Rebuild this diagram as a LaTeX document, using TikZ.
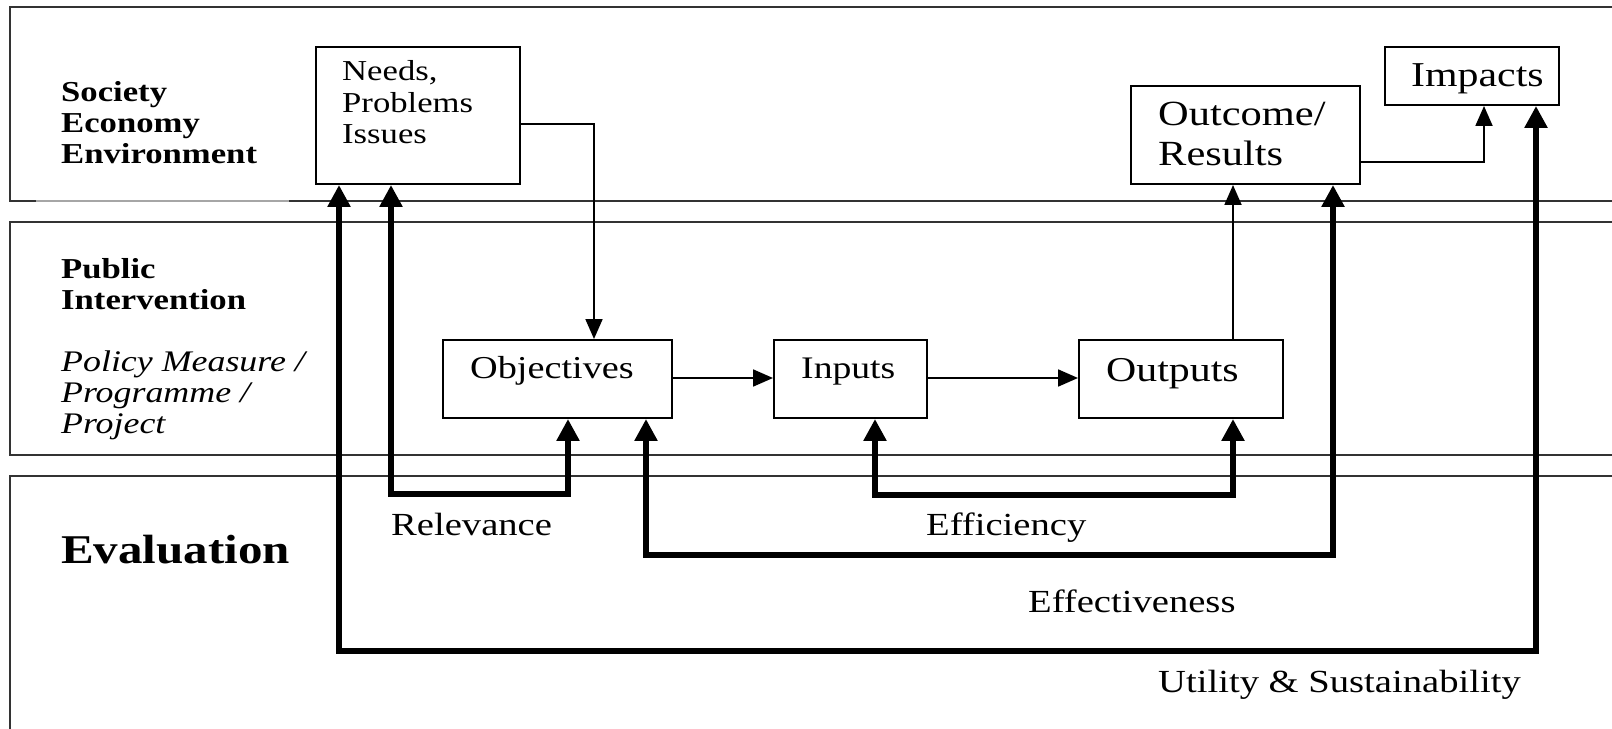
\documentclass[tikz,border=0pt]{standalone}
\usepackage{fontspec}
\setmainfont{Liberation Serif}[FakeStretch=1.2]
\usetikzlibrary{arrows.meta}
\begin{document}
\begin{tikzpicture}[x=1bp,y=-1bp,
  panel/.style={draw=black!80, line width=1.5pt},
  box/.style={draw, line width=2pt, inner sep=0pt, anchor=north west},
  flow/.style={line width=2pt, -{Triangle[length=20pt,width=17pt]}},
  fatarrow/.style={line width=6pt, line join=miter, {Triangle[length=22pt,width=22pt]}-{Triangle[length=22pt,width=22pt]}},
  txt/.style={anchor=base west, inner sep=0pt},
  lbl/.style={txt, font=\fontsize{32.3}{39}\selectfont},
  head/.style={txt, font=\fontsize{29}{31}\selectfont\bfseries},
  sub/.style={txt, font=\fontsize{30}{31}\selectfont\itshape},
  intext/.style={txt, font=\fontsize{29}{31}\selectfont}
]
\useasboundingbox (0,0) rectangle (1612,729);
\fill[white] (0,0) rectangle (1612,729);
% panels
\draw[panel] (1640,7) -- (10,7) -- (10,201) -- (1640,201);
\draw[black!35, line width=1.5pt] (36,201) -- (289,201);
\draw[panel] (1640,222) -- (10,222) -- (10,455) -- (1640,455);
\draw[panel] (1640,476) -- (10,476) -- (10,740);

% row headings
\node[head] (h1) at (61,102) {Society};
\node[head] (h2) at (61,133) {Economy};
\node[head] (h3) at (61,163) {Environment};
\node[head] (p1) at (61,278) {Public};
\node[head] (p2) at (61,309) {Intervention};
\node[sub] (s1) at (61,371) {Policy Measure /};
\node[sub] (s2) at (61,402) {Programme /};
\node[sub] (s3) at (61,433) {Project};
\node[txt, font=\fontsize{41}{45}\selectfont\bfseries] (ev) at (61,563) {Evaluation};

% boxes
\node[box, minimum width=204bp, minimum height=137bp] (needs) at (315,46) {};
\node[box, minimum width=229bp, minimum height=98bp] (outcome) at (1130,85) {};
\node[box, minimum width=174bp, minimum height=58bp] (impacts) at (1384,46) {};
\node[box, minimum width=229bp, minimum height=78bp] (objectives) at (442,339) {};
\node[box, minimum width=153bp, minimum height=78bp] (inputs) at (773,339) {};
\node[box, minimum width=204bp, minimum height=78bp] (outputs) at (1078,339) {};

% box texts
\node[intext] (n1) at (342,81) {Needs,};
\node[intext] (n2) at (342,113) {Problems};
\node[intext] (n3) at (342,144) {Issues};
\node[txt, font=\fontsize{35.5}{39}\selectfont] (o1) at (1158,126) {Outcome/};
\node[txt, font=\fontsize{35.5}{39}\selectfont] (o2) at (1158,165) {Results};
\node[txt, font=\fontsize{35}{39}\selectfont] (im) at (1411,87) {Impacts};
\node[txt, font=\fontsize{32}{39}\selectfont] (ob) at (470,378) {Objectives};
\node[txt, font=\fontsize{31.5}{39}\selectfont] (in) at (801,378) {Inputs};
\node[txt, font=\fontsize{35}{39}\selectfont] (ou) at (1106,381) {Outputs};

% thin flows
\draw[flow] (needs.east |- 0,124) -| (objectives.north -| 594,0);
\draw[flow] (outcome.east |- 0,162) -| (impacts.south -| 1484,0);
\draw[flow] (outputs.north -| 1233,0) -- (outcome.south -| 1233,0);
\draw[flow] (objectives.east |- 0,378) -- (inputs.west |- 0,378);
\draw[flow] (inputs.east |- 0,378) -- (outputs.west |- 0,378);

% evaluation loops
\draw[fatarrow] (needs.south -| 391,0) -- (391,494) -- (568,494) -- (objectives.south -| 568,0);
\draw[fatarrow] (inputs.south -| 875,0) -- (875,495) -- (1233,495) -- (outputs.south -| 1233,0);
\draw[fatarrow] (objectives.south -| 646,0) -- (646,555) -- (1333,555) -- (outcome.south -| 1333,0);
\draw[fatarrow] (needs.south -| 339,0) -- (339,651) -- (1536,651) -- (impacts.south -| 1536,0);

% labels
\node[lbl] (relev) at (391,535) {Relevance};
\node[lbl] (effic) at (926,535) {Efficiency};
\node[lbl] (effect) at (1028,612) {Effectiveness};
\node[lbl] (util) at (1158,692) {Utility \& Sustainability};
\end{tikzpicture}
\end{document}
